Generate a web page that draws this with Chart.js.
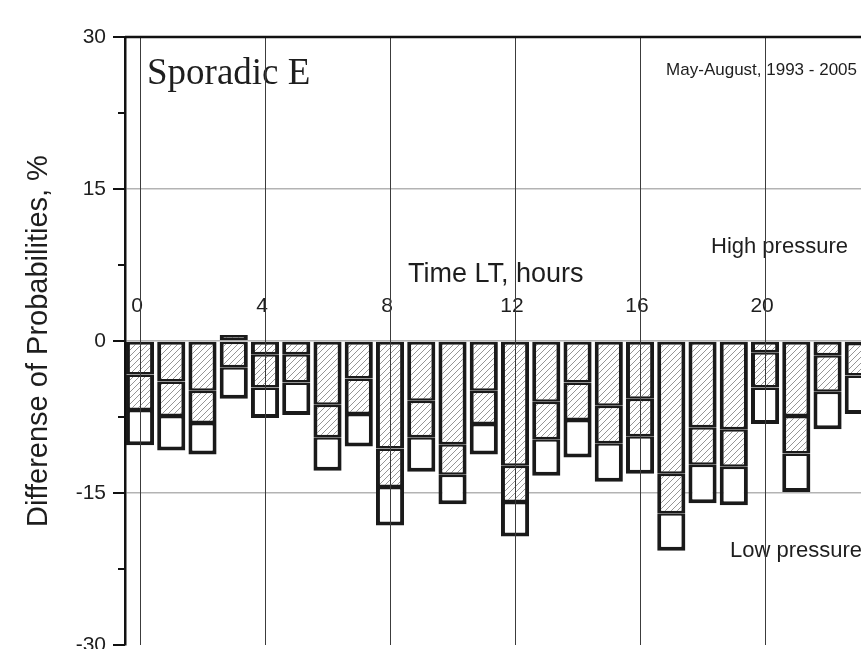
<!DOCTYPE html>
<html>
<head>
<meta charset="utf-8">
<script src="https://cdn.jsdelivr.net/npm/chart.js@4.4.1/dist/chart.umd.min.js"></script>
<style>
  html, body { margin: 0; padding: 0; background: #fff; overflow: hidden; }
  #wrap { width: 861px; height: 649px; overflow: hidden; }
</style>
</head>
<body>
<div id="wrap"><canvas id="chart" width="861" height="661"></canvas></div>
<script>
/* Data: local time hour and the edges of each box (%) */
const hours = [0,1,2,3,4,5,6,7,8,9,10,11,12,13,14,15,16,17,18,19,20,21,22,23];
const boxTop    = [0,0,0,0.6,0,0,0,0,0,0,0,0,0,0,0,0,0,0,0,0,0,0,0,0];
const line1     = [-3.3,-4.0,-4.9,0,-1.3,-1.3,-6.3,-3.7,-10.6,-5.9,-10.2,-4.9,-12.3,-6.0,-4.1,-6.4,-5.7,-13.1,-8.5,-8.7,-1.1,-7.4,-1.4,-0.2];
const line2     = [-6.8,-7.4,-8.1,-2.6,-4.6,-4.1,-9.5,-7.2,-14.4,-9.5,-13.2,-8.2,-15.9,-9.7,-7.8,-10.1,-9.4,-17.0,-12.2,-12.4,-4.6,-11.1,-5.0,-3.4];
const boxBottom = [-10.3,-10.8,-11.2,-5.7,-7.6,-7.3,-12.8,-10.4,-18.2,-12.9,-16.1,-11.2,-19.3,-13.3,-11.5,-13.9,-13.1,-20.7,-16.0,-16.2,-8.2,-14.9,-8.7,-7.2];
const hourLabels = [0,4,8,12,16,20];
const yMin = -30, yMax = 30, yStep = 7.5;

/* Hatch */
function hatch() {
  const n = 6;
  const c = document.createElement('canvas');
  c.width = n; c.height = n;
  const g = c.getContext('2d');
  g.fillStyle = '#fff';
  g.fillRect(0, 0, n, n);
  g.strokeStyle = '#8a8a8a';
  g.lineWidth = 0.9;
  g.beginPath();
  g.moveTo(-1, n + 1); g.lineTo(n + 1, -1);
  g.moveTo(-1, 1); g.lineTo(1, -1);
  g.moveTo(n - 1, n + 1); g.lineTo(n + 1, n - 1);
  g.stroke();
  return g.createPattern(c, 'repeat');
}
const hatchFill = hatch();

function seg(from, to) {
  return hours.map((h, i) => ({ x: h, y: [from[i], to[i]] }));
}

const ink = '#1e1e1e';
const sans = 'Liberation Sans';

const notes = {
  id: 'notes',
  afterDatasetsDraw(chart) {
    const { ctx, chartArea: a, scales: { x, y } } = chart;
    ctx.save();
    ctx.fillStyle = ink;

    // texts
    ctx.font = '37px "Liberation Serif"';
    ctx.textAlign = 'left';
    ctx.textBaseline = 'alphabetic';
    ctx.fillText('Sporadic E', 147, 84);

    ctx.font = '17px ' + sans;
    ctx.textAlign = 'right';
    ctx.fillText('May-August, 1993 - 2005', 857, 75);

    ctx.textAlign = 'left';
    ctx.font = '27px ' + sans;
    ctx.fillText('Time LT, hours', 408, 282);

    ctx.font = '22px ' + sans;
    ctx.fillText('High pressure', 711, 253);
    ctx.fillText('Low pressure', 730, 557);

    ctx.font = '21px ' + sans;
    ctx.textAlign = 'center';
    const y0 = y.getPixelForValue(0);
    hourLabels.forEach(h => {
      ctx.fillText(String(h), x.getPixelForValue(h) - 3, y0 - 29);
    });

    // vertical grid, over the boxes
    ctx.strokeStyle = '#3c3c3c';
    ctx.lineWidth = 1;
    hourLabels.forEach(h => {
      const px = Math.round(x.getPixelForValue(h)) + 0.5;
      ctx.beginPath();
      ctx.moveTo(px, a.top);
      ctx.lineTo(px, a.bottom);
      ctx.stroke();
    });

    // top frame
    ctx.strokeStyle = '#111';
    ctx.lineWidth = 2.5;
    ctx.beginPath();
    ctx.moveTo(a.left, a.top);
    ctx.lineTo(a.right, a.top);
    ctx.stroke();

    // y ticks, major and minor
    ctx.lineWidth = 2;
    for (let v = yMin; v <= yMax; v += yStep) {
      const py = Math.round(y.getPixelForValue(v));
      const len = v % 15 === 0 ? 12 : 7;
      ctx.beginPath();
      ctx.moveTo(a.left - len, py);
      ctx.lineTo(a.left, py);
      ctx.stroke();
    }
    ctx.restore();
  }
};

const edge = { left: 4, right: 4 };

new Chart(document.getElementById('chart'), {
  type: 'bar',
  data: {
    datasets: [
      { data: seg(boxTop, line1), backgroundColor: hatchFill,
        borderWidth: { ...edge, top: 3, bottom: 2.5 } },
      { data: seg(line1, line2), backgroundColor: hatchFill,
        borderWidth: { ...edge, top: 2.5, bottom: 2.5 } },
      { data: seg(line2, boxBottom), backgroundColor: '#fff',
        borderWidth: { ...edge, top: 2.5, bottom: 4 } }
    ]
  },
  options: {
    responsive: false,
    animation: false,
    devicePixelRatio: 1,
    layout: { padding: { top: 37, bottom: 16, left: 0, right: 0 } },
    datasets: {
      bar: {
        grouped: false,
        borderColor: '#1a1a1a',
        borderSkipped: false,
        categoryPercentage: 1,
        barPercentage: 0.9
      }
    },
    plugins: { legend: { display: false }, tooltip: { enabled: false } },
    scales: {
      x: { type: 'linear', min: -0.48, max: 23.07, offset: false, display: false },
      y: {
        min: yMin, max: yMax,
        afterFit(scale) { scale.width = 125; },
        ticks: {
          stepSize: yStep,
          padding: 0,
          color: ink,
          font: { family: sans, size: 21 },
          callback: v => (v % 15 === 0 ? String(v) : '')
        },
        grid: {
          drawTicks: true,
          tickLength: 19,
          tickColor: 'rgba(0,0,0,0)',
          lineWidth: 1.5,
          color: c => (Math.abs(c.tick.value) < 30 && c.tick.value % 15 === 0 ? '#b3b3b3' : 'rgba(0,0,0,0)')
        },
        border: { color: '#111', width: 2.5 },
        title: {
          display: true,
          text: 'Differense of Probabilities, %',
          color: ink,
          font: { family: sans, size: 29 },
          padding: { top: 22, bottom: 0 }
        }
      }
    }
  },
  plugins: [notes]
});
</script>
</body>
</html>
